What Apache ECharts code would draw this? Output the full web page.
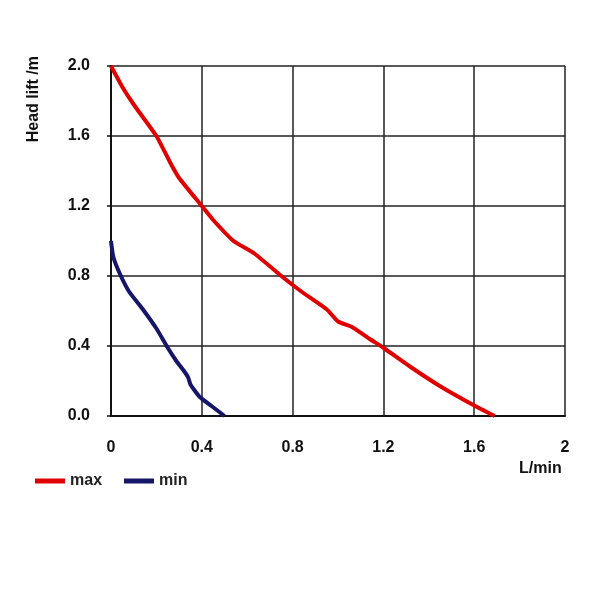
<!DOCTYPE html>
<html>
<head>
<meta charset="utf-8">
<script src="https://cdn.jsdelivr.net/npm/echarts@6/dist/echarts.min.js"></script>
<style>html,body{margin:0;padding:0;background:#fff}#c{width:600px;height:600px}</style>
</head>
<body>
<div id="c"></div>
<script>
var seriesNames = ['max', 'min'];
var maxFlow = [0, 0.05, 0.1, 0.2, 0.26, 0.3, 0.4, 0.45, 0.54, 0.63, 0.76, 0.84, 0.95, 1.0, 1.06, 1.14, 1.2, 1.32, 1.45, 1.6, 1.69];
var maxHead = [2.0, 1.88, 1.78, 1.6, 1.45, 1.36, 1.2, 1.12, 1.0, 0.93, 0.79, 0.71, 0.61, 0.54, 0.51, 0.44, 0.39, 0.28, 0.17, 0.06, 0.0];
var minFlow = [0, 0.01, 0.04, 0.08, 0.14, 0.2, 0.25, 0.29, 0.32, 0.34, 0.35, 0.39, 0.45, 0.5];
var minHead = [1.0, 0.91, 0.81, 0.71, 0.61, 0.5, 0.39, 0.31, 0.26, 0.22, 0.18, 0.11, 0.05, 0.0];
var xTicks = ['0', '0.4', '0.8', '1.2', '1.6', '2'];
var yTicks = ['0.0', '0.4', '0.8', '1.2', '1.6', '2.0'];
var xName = 'L/min';
var yName = 'Head lift /m';

function pairs(xs, ys) { return xs.map(function (x, i) { return [x, ys[i]]; }); }

var chart = echarts.init(document.getElementById('c'));
var ff = 'Liberation Sans, Arial, sans-serif';
var labelFont = { color: '#111', fontSize: 16, fontWeight: 'bold', fontFamily: ff };
chart.setOption({
  animation: false,
  backgroundColor: '#fff',
  grid: { left: 111, right: 35, top: 66, bottom: 184 },
  xAxis: {
    type: 'value', min: 0, max: 2, interval: 0.4,
    axisLine: { lineStyle: { color: '#111', width: 2 } },
    axisTick: { show: false },
    splitLine: { lineStyle: { color: '#222', width: 1.5 } },
    axisLabel: Object.assign({ margin: 24, formatter: function (v) { return xTicks[Math.round(v / 0.4)]; } }, labelFont)
  },
  yAxis: {
    type: 'value', min: 0, max: 2, interval: 0.4,
    axisLine: { show: true, lineStyle: { color: '#111', width: 2 } },
    axisTick: { show: true, length: 4, lineStyle: { color: '#111', width: 1.5 } },
    splitLine: { lineStyle: { color: '#222', width: 1.5 } },
    axisLabel: Object.assign({ margin: 21, formatter: function (v) { return yTicks[Math.round(v / 0.4)]; } }, labelFont)
  },
  legend: {
    left: 30, top: 468, itemWidth: 30, itemHeight: 5, itemGap: 22, icon: 'rect',
    textStyle: { color: '#222', fontSize: 16, fontWeight: 'bold', fontFamily: ff },
    data: seriesNames
  },
  graphic: [
    { type: 'text', left: 26, top: 56, rotation: Math.PI / 2, style: { text: yName, fill: '#111', font: 'bold 16px ' + ff } },
    { type: 'text', left: 519, top: 461, style: { text: xName, fill: '#111', font: 'bold 16px ' + ff } }
  ],
  series: [
    { name: seriesNames[0], type: 'line', showSymbol: false, smooth: 0.15, data: pairs(maxFlow, maxHead), lineStyle: { color: '#e00000', width: 4 }, itemStyle: { color: '#e00000' } },
    { name: seriesNames[1], type: 'line', showSymbol: false, smooth: 0.15, data: pairs(minFlow, minHead), lineStyle: { color: '#15156a', width: 4 }, itemStyle: { color: '#15156a' } }
  ]
});
</script>
</body>
</html>
